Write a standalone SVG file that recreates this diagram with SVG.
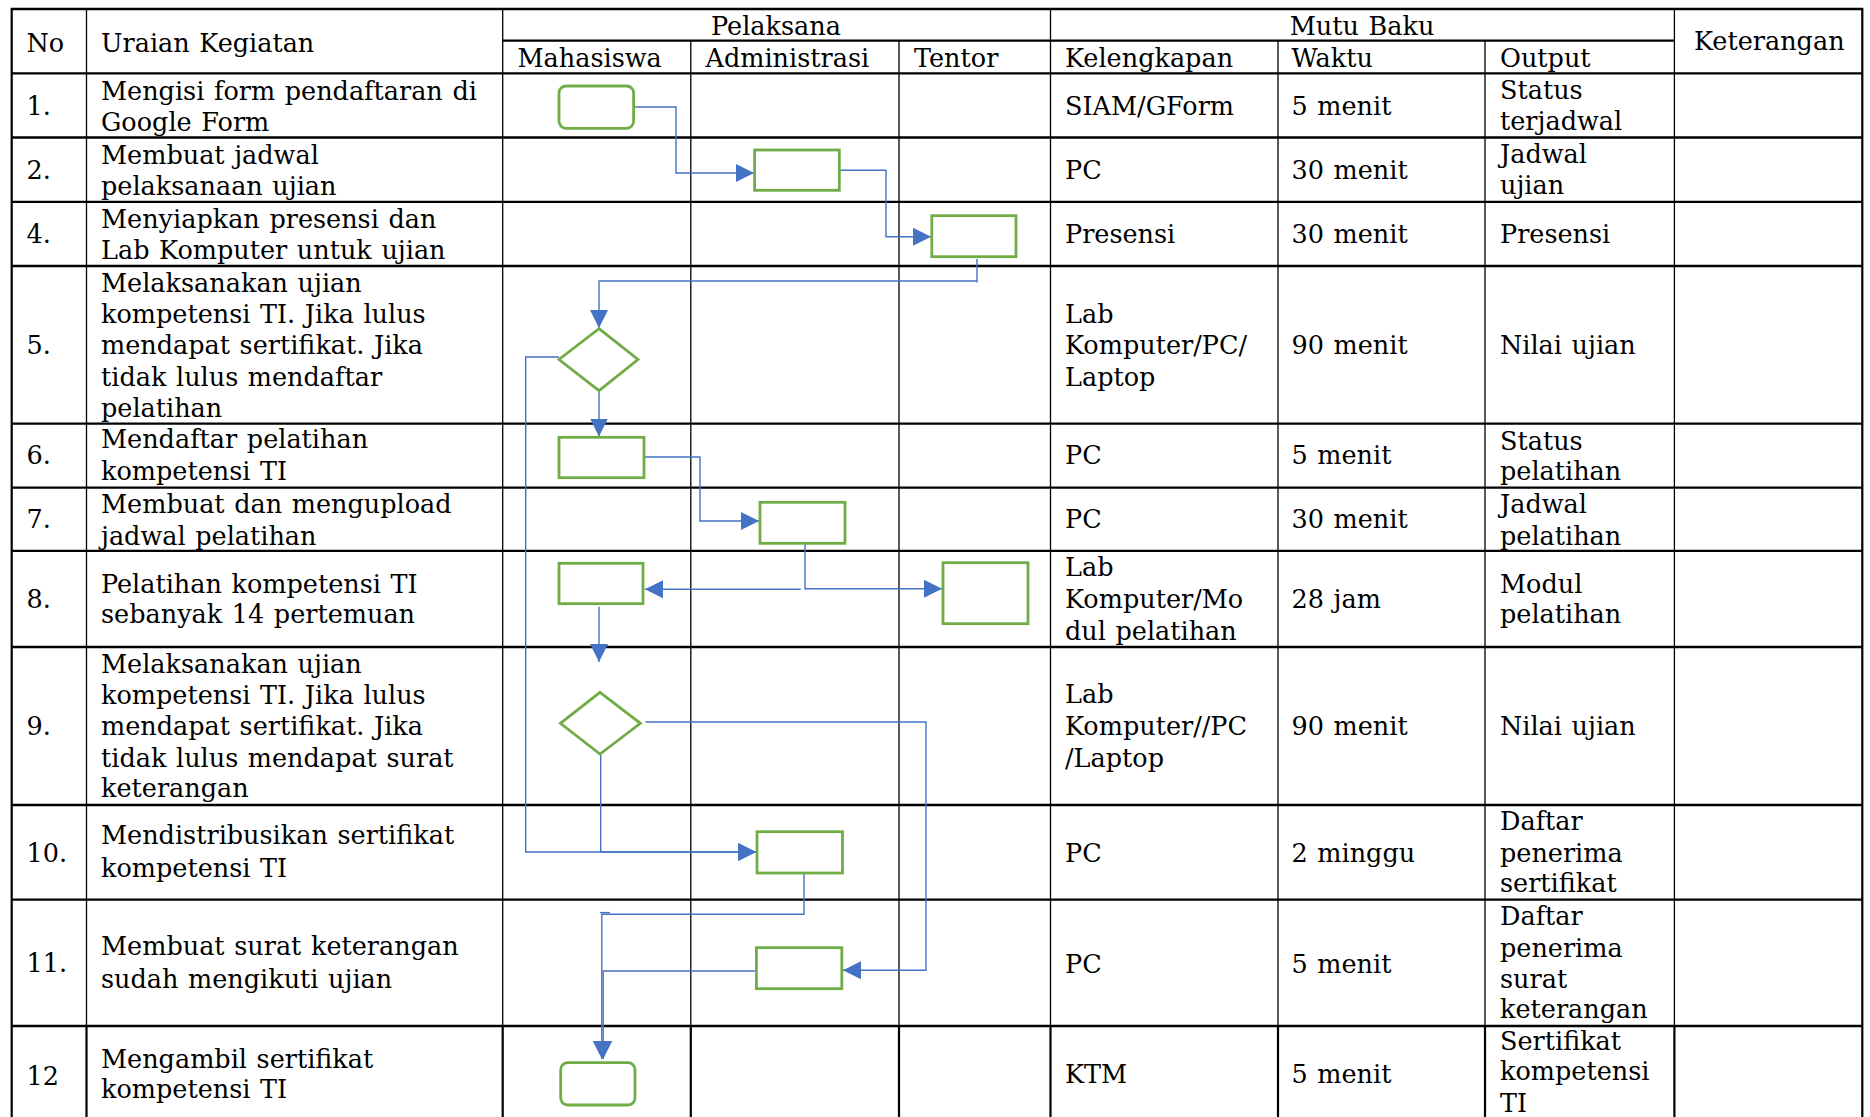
<svg xmlns="http://www.w3.org/2000/svg" width="1870" height="1117" viewBox="0 0 1870 1117">
<style>
text{font-family:"DejaVu Serif","Liberation Serif",serif;font-size:25.5px;fill:#000;word-spacing:1.5px}
.h{stroke:#000;stroke-width:2.3;fill:none}
.v{stroke:#000;stroke-width:1.3;fill:none}
.vb{stroke:#000;stroke-width:2.2;fill:none}
.node{fill:#fff;stroke:#70AD47;stroke-width:2.8}
.con{fill:none;stroke:#4472C4;stroke-width:1.4}
.mid{text-anchor:middle}
</style>
<defs>
<marker id="arr" markerUnits="userSpaceOnUse" markerWidth="18" markerHeight="18" refX="15" refY="7.5" orient="auto" viewBox="0 0 15 15">
<path d="M0,0 L15,7.5 L0,15 Z" fill="#4472C4"/>
</marker>
</defs>
<rect width="1870" height="1117" fill="#fff"/>
<g id="table">
<path class="h" d="M11,9 H1863 M502.7,40.7 H1674.4 M11,73.3 H1863 M11,137.5 H1863 M11,201.8 H1863 M11,266 H1863 M11,423.7 H1863 M11,487.7 H1863 M11,550.8 H1863 M11,647 H1863 M11,805 H1863 M11,899.7 H1863 M11,1026 H1863"/>
<path class="vb" d="M11.7,8 V1117 M1862.3,8 V1117"/>
<path class="v" d="M86.5,9 V1026 M502.7,9 V1026 M690.8,40.7 V1026 M899,40.7 V1026 M1050.5,9 V1026 M1278,40.7 V1026 M1485,40.7 V1026 M1674.4,9 V1026"/>
<path class="vb" d="M86.5,1026 V1117 M502.7,1026 V1117 M690.8,1026 V1117 M899,1026 V1117 M1050.5,1026 V1117 M1278,1026 V1117 M1485,1026 V1117 M1674.4,1026 V1117"/>
</g>
<g id="header">
<text x="26.5" y="51.7">No</text>
<text x="101" y="51.7">Uraian Kegiatan</text>
<text class="mid" x="776" y="35">Pelaksana</text>
<text x="517.5" y="66.5">Mahasiswa</text>
<text x="705.5" y="66.5">Administrasi</text>
<text x="914" y="66.5">Tentor</text>
<text class="mid" x="1362" y="35">Mutu Baku</text>
<text x="1065" y="66.5">Kelengkapan</text>
<text x="1291.5" y="66.5">Waktu</text>
<text x="1500" y="66.5">Output</text>
<text x="1694" y="50">Keterangan</text>
</g>
<g id="row1">
<text x="26.5" y="115">1.</text>
<text x="101" y="99.5">Mengisi form pendaftaran di</text>
<text x="101" y="130.5">Google Form</text>
<text x="1065" y="115">SIAM/GForm</text>
<text x="1291.5" y="115">5 menit</text>
<text x="1500" y="99.3">Status</text>
<text x="1500" y="130">terjadwal</text>
</g>
<g id="row2">
<text x="26.5" y="179.3">2.</text>
<text x="101" y="163.5">Membuat jadwal</text>
<text x="101" y="194.5">pelaksanaan ujian</text>
<text x="1065" y="179.3">PC</text>
<text x="1291.5" y="179.3">30 menit</text>
<text x="1500" y="163.3">Jadwal</text>
<text x="1500" y="194.3">ujian</text>
</g>
<g id="row4">
<text x="26.5" y="243.3">4.</text>
<text x="101" y="227.7">Menyiapkan presensi dan</text>
<text x="101" y="259">Lab Komputer untuk ujian</text>
<text x="1065" y="243.3">Presensi</text>
<text x="1291.5" y="243.3">30 menit</text>
<text x="1500" y="243.3">Presensi</text>
</g>
<g id="row5">
<text x="26.5" y="354.3">5.</text>
<text x="101" y="292.3">Melaksanakan ujian</text>
<text x="101" y="323.3">kompetensi TI. Jika lulus</text>
<text x="101" y="354.3">mendapat sertifikat. Jika</text>
<text x="101" y="385.5">tidak lulus mendaftar</text>
<text x="101" y="416.7">pelatihan</text>
<text x="1065" y="323.3">Lab</text>
<text x="1065" y="354.3">Komputer/PC/</text>
<text x="1065" y="385.5">Laptop</text>
<text x="1291.5" y="354.3">90 menit</text>
<text x="1500" y="354.3">Nilai ujian</text>
</g>
<g id="row6">
<text x="26.5" y="463.5">6.</text>
<text x="101" y="448.3">Mendaftar pelatihan</text>
<text x="101" y="480">kompetensi TI</text>
<text x="1065" y="464">PC</text>
<text x="1291.5" y="464">5 menit</text>
<text x="1500" y="450">Status</text>
<text x="1500" y="480">pelatihan</text>
</g>
<g id="row7">
<text x="26.5" y="528.3">7.</text>
<text x="101" y="513.3">Membuat dan mengupload</text>
<text x="101" y="545">jadwal pelatihan</text>
<text x="1065" y="528.3">PC</text>
<text x="1291.5" y="528.3">30 menit</text>
<text x="1500" y="513.3">Jadwal</text>
<text x="1500" y="545">pelatihan</text>
</g>
<g id="row8">
<text x="26.5" y="608.3">8.</text>
<text x="101" y="592.7">Pelatihan kompetensi TI</text>
<text x="101" y="623.3">sebanyak 14 pertemuan</text>
<text x="1065" y="576">Lab</text>
<text x="1065" y="608.3">Komputer/Mo</text>
<text x="1065" y="640">dul pelatihan</text>
<text x="1291.5" y="608.3">28 jam</text>
<text x="1500" y="592.7">Modul</text>
<text x="1500" y="623.3">pelatihan</text>
</g>
<g id="row9">
<text x="26.5" y="735">9.</text>
<text x="101" y="673.3">Melaksanakan ujian</text>
<text x="101" y="704">kompetensi TI. Jika lulus</text>
<text x="101" y="735">mendapat sertifikat. Jika</text>
<text x="101" y="766.7">tidak lulus mendapat surat</text>
<text x="101" y="796.7">keterangan</text>
<text x="1065" y="703.3">Lab</text>
<text x="1065" y="735">Komputer//PC</text>
<text x="1065" y="766.7">/Laptop</text>
<text x="1291.5" y="735">90 menit</text>
<text x="1500" y="735">Nilai ujian</text>
</g>
<g id="row10">
<text x="26.5" y="861.7">10.</text>
<text x="101" y="844">Mendistribusikan sertifikat</text>
<text x="101" y="876.7">kompetensi TI</text>
<text x="1065" y="861.7">PC</text>
<text x="1291.5" y="861.7">2 minggu</text>
<text x="1500" y="830">Daftar</text>
<text x="1500" y="861.7">penerima</text>
<text x="1500" y="891.7">sertifikat</text>
</g>
<g id="row11">
<text x="26.5" y="971.7">11.</text>
<text x="101" y="955">Membuat surat keterangan</text>
<text x="101" y="987.7">sudah mengikuti ujian</text>
<text x="1065" y="973.3">PC</text>
<text x="1291.5" y="973.3">5 menit</text>
<text x="1500" y="925">Daftar</text>
<text x="1500" y="956.7">penerima</text>
<text x="1500" y="988.3">surat</text>
<text x="1500" y="1018.3">keterangan</text>
</g>
<g id="row12">
<text x="26.5" y="1085">12</text>
<text x="101" y="1067.5">Mengambil sertifikat</text>
<text x="101" y="1098">kompetensi TI</text>
<text x="1065" y="1083.3">KTM</text>
<text x="1291.5" y="1083.3">5 menit</text>
<text x="1500" y="1050">Sertifikat</text>
<text x="1500" y="1080">kompetensi</text>
<text x="1500" y="1111.7">TI</text>
</g>
<g id="connectors">
<path class="con" d="M633.6,107 H676 V173 H754" marker-end="url(#arr)"/>
<path class="con" d="M839.3,170.3 H886 V236.7 H931" marker-end="url(#arr)"/>
<path class="con" d="M977,259 V282.5 M977,281 H599 V328" marker-end="url(#arr)"/>
<path class="con" d="M599,390.7 V436.5" marker-end="url(#arr)"/>
<path class="con" d="M559,357 H525.7 V852 H756" marker-end="url(#arr)"/>
<path class="con" d="M600.7,754 V852 H756" marker-end="url(#arr)"/>
<path class="con" d="M644,457 H700 V521 H759" marker-end="url(#arr)"/>
<path class="con" d="M805,543.5 V588.7 H942" marker-end="url(#arr)"/>
<path class="con" d="M800.7,589.3 H645" marker-end="url(#arr)"/>
<path class="con" d="M599,606.7 V662" marker-end="url(#arr)"/>
<path class="con" d="M645.4,722 H926 V970.3 H843" marker-end="url(#arr)"/>
<path class="con" d="M800,872 H804 V914.3 H601.8 V1059" marker-end="url(#arr)"/>
<path class="con" d="M600,912.6 H610"/>
<path class="con" d="M756.4,971 H603.2 V1059" marker-end="url(#arr)"/>
</g>
<g id="n1"><rect class="node" x="559" y="86" width="74.6" height="42.3" rx="7"/></g>
<g id="n2"><rect class="node" x="754.6" y="150" width="84.7" height="40.3"/></g>
<g id="n3"><rect class="node" x="931.8" y="215.7" width="84.2" height="41"/></g>
<g id="d1"><polygon class="node" points="599,328.7 638,359.5 599,390.7 559,359.5"/></g>
<g id="n4"><rect class="node" x="559" y="437.3" width="85" height="40.4"/></g>
<g id="n5"><rect class="node" x="760" y="502.3" width="85" height="41"/></g>
<g id="n6"><rect class="node" x="943" y="562.7" width="85" height="61"/></g>
<g id="n7"><rect class="node" x="559" y="563.3" width="84" height="40.4"/></g>
<g id="d2"><polygon class="node" points="600,692.3 640.4,723.3 600,754 560.4,723.3"/></g>
<g id="n8"><rect class="node" x="757" y="831.7" width="85.5" height="41.3"/></g>
<g id="n9"><rect class="node" x="756.4" y="947.7" width="85.4" height="41"/></g>
<g id="n10"><rect class="node" x="560.7" y="1062.7" width="74.3" height="42.3" rx="7"/></g>
</svg>
